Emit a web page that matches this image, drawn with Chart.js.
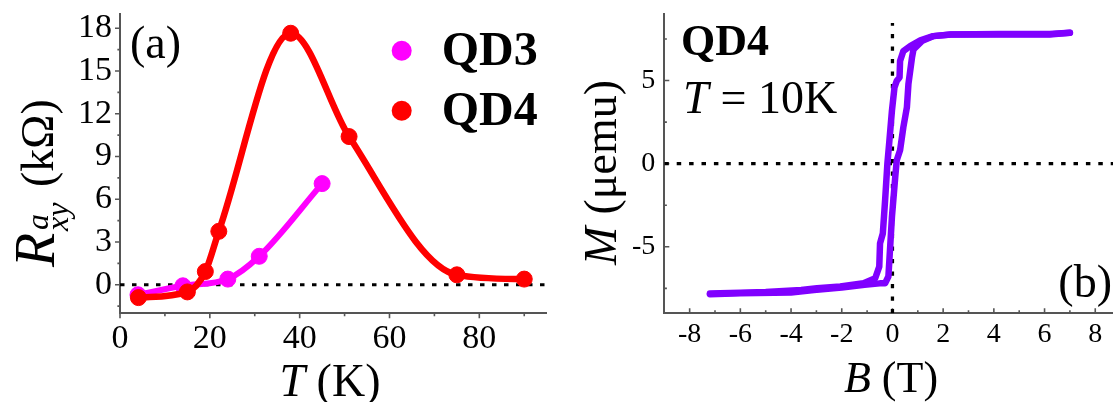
<!DOCTYPE html>
<html>
<head>
<meta charset="utf-8">
<script src="https://cdn.jsdelivr.net/npm/chart.js@4/dist/chart.umd.min.js"></script>
<style>
  body { margin: 0; background: #fff; }
  #wrap { position: relative; width: 1113px; height: 402px; overflow: hidden; }
  canvas { position: absolute; top: 0; }
</style>
</head>
<body>
<div id="wrap">
  <canvas id="chartA" width="560" height="402" style="left:0"></canvas>
  <canvas id="chartB" width="553" height="402" style="left:560px"></canvas>
</div>
<script>
// panel (a): anomalous Hall resistance vs temperature
const tempQD3 = [4, 14, 24, 31, 45];
const rxyQD3 = [-0.7, -0.07, 0.4, 2.0, 7.1];
const tempQD4 = [4.1, 15, 19, 22, 38, 51, 75, 90];
const rxyQD4 = [-0.9, -0.5, 0.93, 3.75, 17.65, 10.4, 0.7, 0.4];
const tempTicks = [0, 20, 40, 60, 80];
const tempMinor = [10, 30, 50, 70, 90];
const rxyTicks = [0, 3, 6, 9, 12, 15, 18];
const rxyMinor = [-1.5, 1.5, 4.5, 7.5, 10.5, 13.5, 16.5];

// panel (b): M(B) loop at 10 K, sweep down then sweep up
const fieldDown = [7.0, 6.2, 4.2, 2.3, 1.6, 1.1, 0.7, 0.43, 0.3, 0.28, 0.17, 0.08, -0.02, -0.12, -0.2, -0.29, -0.38, -0.49, -0.52, -0.68, -1.14, -2.06, -2.98, -3.6, -5.0, -6.0, -7.2];
const momentDown = [7.87, 7.77, 7.77, 7.77, 7.67, 7.41, 7.07, 6.77, 6.17, 5.18, 4.98, 4.58, 3.19, 1.39, 0, -2.2, -4.2, -4.79, -6.19, -6.89, -7.19, -7.39, -7.49, -7.6, -7.72, -7.77, -7.81];
const fieldUp = [-7.2, -6.0, -4.0, -3.1, -2.0, -1.1, -0.5, -0.29, -0.16, -0.12, -0.02, 0.11, 0.17, 0.3, 0.43, 0.57, 0.63, 0.77, 0.83, 1.16, 1.62, 2.3, 4.2, 6.2, 7.0];
const momentUp = [-7.85, -7.8, -7.75, -7.6, -7.45, -7.28, -7.2, -7.19, -6.79, -5.78, -3.19, -0.8, 0.2, 0.8, 2.19, 3.39, 4.78, 6.37, 6.87, 7.37, 7.67, 7.77, 7.8, 7.8, 7.87];
const fieldTicks = [-8, -6, -4, -2, 0, 2, 4, 6, 8];
const fieldMinor = [-7, -5, -3, -1, 1, 3, 5, 7];
const momentTicks = [-5, 0, 5];
const momentMinor = [-7.5, -2.5, 2.5, 7.5];

const SERIF = "'Liberation Serif', 'Times New Roman', serif";
Chart.defaults.font.family = SERIF;
Chart.defaults.color = '#000';

const toXY = (xs, ys) => xs.map((x, i) => ({ x: x, y: ys[i] }));

// draws minor/major tick marks; outward for (a), inward for (b)
const tickMarks = {
  id: 'tickMarks',
  beforeDatasetsDraw(chart, args, opts) {
    const { ctx, chartArea } = chart;
    const xs = chart.scales.x, ys = chart.scales.y;
    const d = opts.inward ? -1 : 1;
    ctx.save();
    ctx.strokeStyle = '#555';
    ctx.lineWidth = 1.6;
    ctx.beginPath();
    const xMark = (v, len) => {
      const px = xs.getPixelForValue(v);
      ctx.moveTo(px, chartArea.bottom);
      ctx.lineTo(px, chartArea.bottom + d * len);
    };
    const yMark = (v, len) => {
      const py = ys.getPixelForValue(v);
      ctx.moveTo(chartArea.left, py);
      ctx.lineTo(chartArea.left - d * len, py);
    };
    opts.xMajor.forEach(v => xMark(v, 5));
    opts.xMinor.forEach(v => xMark(v, 3));
    opts.yMajor.forEach(v => yMark(v, 5));
    opts.yMinor.forEach(v => yMark(v, 2.6));
    ctx.stroke();
    ctx.restore();
  }
};

// draws a run of text pieces, optionally rotated
function drawPieces(ctx, x, y, rotate, pieces) {
  ctx.save();
  ctx.translate(x, y);
  if (rotate) ctx.rotate(-Math.PI / 2);
  ctx.fillStyle = '#000';
  ctx.textBaseline = 'alphabetic';
  ctx.textAlign = 'left';
  pieces.forEach(p => {
    ctx.font = p.font;
    ctx.fillText(p.text, p.at, p.dy || 0);
  });
  ctx.restore();
}

function centeredRun(ctx, cx, y, pieces) {
  let w = 0;
  pieces.forEach(p => { ctx.font = p.font; p.at = w; w += ctx.measureText(p.text).width; });
  drawPieces(ctx, cx - w / 2, y, false, pieces);
}

const labelsA = {
  id: 'labelsA',
  afterDraw(chart) {
    const ctx = chart.ctx;
    // y title: R^a_xy (kΩ)
    drawPieces(ctx, 54, 267, true, [
      { text: 'R', font: 'italic 56px ' + SERIF, at: 0 },
      { text: 'a', font: 'italic 32px ' + SERIF, at: 37, dy: -6 },
      { text: 'xy', font: 'italic 32px ' + SERIF, at: 36, dy: 14 },
      { text: '(kΩ)', font: '46px ' + SERIF, at: 80, dy: -1 }
    ]);
    // x title: T (K)
    centeredRun(ctx, 330, 396, [
      { text: 'T', font: 'italic 46px ' + SERIF },
      { text: ' (K)', font: '46px ' + SERIF }
    ]);
    // panel tag
    drawPieces(ctx, 130, 58, false, [{ text: '(a)', font: '46px ' + SERIF, at: 0 }]);
    // legend
    const entries = [['QD3', '#ff00ff', 50.7, 65], ['QD4', '#ff0000', 110.7, 125]];
    entries.forEach(e => {
      ctx.save();
      ctx.fillStyle = e[1];
      ctx.beginPath();
      ctx.arc(401.7, e[2], 10, 0, Math.PI * 2);
      ctx.fill();
      ctx.restore();
      drawPieces(ctx, 441.7, e[3], false, [{ text: e[0], font: 'bold 48px ' + SERIF, at: 0 }]);
    });
  }
};

const labelsB = {
  id: 'labelsB',
  afterDraw(chart) {
    const ctx = chart.ctx;
    const ox = 560;
    drawPieces(ctx, 616 - ox, 265, true, [
      { text: 'M', font: 'italic 46px ' + SERIF, at: 0 },
      { text: ' (μemu)', font: '46px ' + SERIF, at: 39 }
    ]);
    centeredRun(ctx, 891 - ox, 392, [
      { text: 'B', font: 'italic 44px ' + SERIF },
      { text: ' (T)', font: '44px ' + SERIF }
    ]);
    drawPieces(ctx, 681 - ox, 55, false, [{ text: 'QD4', font: 'bold 44px ' + SERIF, at: 0 }]);
    drawPieces(ctx, 683 - ox, 113, false, [
      { text: 'T', font: 'italic 46px ' + SERIF, at: 0 },
      { text: ' = 10K', font: '46px ' + SERIF, at: 26 }
    ]);
    ctx.save();
    ctx.font = '46px ' + SERIF;
    ctx.textAlign = 'right';
    ctx.fillStyle = '#000';
    ctx.fillText('(b)', 1112 - ox, 297);
    ctx.restore();
  }
};

const axisBase = (min, max, majors, size, pad, isY, fixed) => ({
  type: 'linear',
  min: min,
  max: max,
  border: { color: '#555', width: 2 },
  grid: { display: false, drawTicks: false },
  ticks: {
    color: '#000',
    padding: pad,
    font: isY ? { size: size, lineHeight: 0.3 } : { size: size }
  },
  afterBuildTicks: s => { s.ticks = majors.map(v => ({ value: v })); },
  afterFit: s => { if (isY) s.width = fixed; else s.height = fixed; }
});

new Chart(document.getElementById('chartA'), {
  type: 'scatter',
  data: {
    datasets: [
      {
        label: 'QD4',
        data: toXY(tempQD4, rxyQD4),
        showLine: true,
        cubicInterpolationMode: 'monotone',
        borderColor: '#ff0000',
        backgroundColor: '#ff0000',
        borderWidth: 6.5,
        pointRadius: 8,
        pointBorderWidth: 1,
        pointBorderColor: '#ff0000'
      },
      {
        label: 'QD3',
        data: toXY(tempQD3, rxyQD3),
        showLine: true,
        cubicInterpolationMode: 'monotone',
        borderColor: '#ff00ff',
        backgroundColor: '#ff00ff',
        borderWidth: 6,
        pointRadius: 8,
        pointBorderWidth: 1,
        pointBorderColor: '#ff00ff'
      },
      {
        label: 'zero',
        data: [{ x: 0, y: 0 }, { x: 95, y: 0 }],
        showLine: true,
        borderColor: '#000',
        borderWidth: 3,
        borderDash: [4.5, 7.5],
        pointRadius: 0
      }
    ]
  },
  options: {
    responsive: false,
    animation: false,
    layout: { padding: { top: 14, right: 13.3, left: 0, bottom: 0 } },
    scales: {
      x: axisBase(0, 95, tempTicks, 34, 5.5, false, 88.7),
      y: axisBase(-2, 19, rxyTicks, 34, 8, true, 120)
    },
    plugins: {
      legend: { display: false },
      tooltip: { enabled: false },
      tickMarks: { inward: false, xMajor: tempTicks, xMinor: tempMinor, yMajor: rxyTicks, yMinor: rxyMinor }
    }
  },
  plugins: [tickMarks, labelsA]
});

new Chart(document.getElementById('chartB'), {
  type: 'scatter',
  data: {
    datasets: [
      {
        label: 'sweep down',
        data: toXY(fieldDown, momentDown),
        showLine: true,
        borderColor: '#8000ff',
        borderWidth: 6.5,
        borderJoinStyle: 'round',
        borderCapStyle: 'round',
        pointRadius: 0
      },
      {
        label: 'sweep up',
        data: toXY(fieldUp, momentUp),
        showLine: true,
        borderColor: '#8000ff',
        borderWidth: 6.5,
        borderJoinStyle: 'round',
        borderCapStyle: 'round',
        pointRadius: 0
      },
      {
        label: 'M = 0',
        data: [{ x: -9, y: 0 }, { x: 8.7, y: 0 }],
        showLine: true,
        borderColor: '#000',
        borderWidth: 3.3,
        borderDash: [4.5, 7.9],
        pointRadius: 0
      },
      {
        label: 'B = 0',
        data: [{ x: 0, y: -9 }, { x: 0, y: 8.46 }],
        showLine: true,
        borderColor: '#000',
        borderWidth: 3.3,
        borderDash: [4.2, 8.3],
        pointRadius: 0
      }
    ]
  },
  options: {
    responsive: false,
    animation: false,
    layout: { padding: { top: 14, right: 0, left: 0, bottom: 0 } },
    scales: {
      x: axisBase(-9, 8.7, fieldTicks, 28, 4.5, false, 88.7),
      y: axisBase(-9, 9, momentTicks, 28, 9, true, 104.3)
    },
    plugins: {
      legend: { display: false },
      tooltip: { enabled: false },
      tickMarks: { inward: true, xMajor: fieldTicks, xMinor: fieldMinor, yMajor: momentTicks, yMinor: momentMinor }
    }
  },
  plugins: [tickMarks, labelsB]
});
</script>
</body>
</html>
